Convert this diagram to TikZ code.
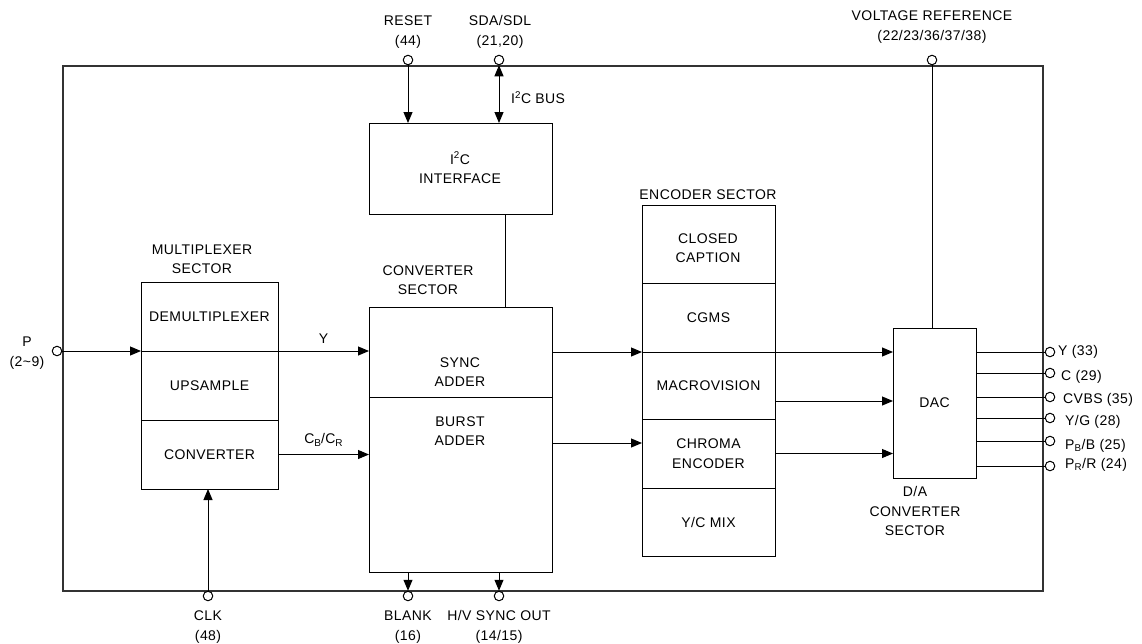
\documentclass[tikz,border=0pt]{standalone}
\usepackage{fontspec}
\setmainfont{Liberation Sans}[LetterSpace=3]
\usetikzlibrary{arrows.meta, positioning}

\begin{document}
\begin{tikzpicture}[
    x=1pt, y=-1pt,
    font=\fontsize{14}{19.5}\selectfont,
    box/.style={draw, line width=1pt, inner sep=0pt, outer sep=0pt, anchor=north west},
    txt/.style={align=center, inner sep=0pt},
    pin/.style={draw, circle, line width=1pt, fill=white, inner sep=0pt, minimum size=9.5pt},
    arr/.style={-{Triangle[length=11pt, width=9pt]}, line width=1pt},
    >={Triangle[length=11pt, width=9pt]}
]
\useasboundingbox (0,0) rectangle (1142,643);

% Chip outline
\node[box, draw=black!80, line width=1.2pt, minimum width=980pt, minimum height=525pt] (chip) at (63,66) {};
\draw[line width=2pt, black!80] (85,591) -- (98,591);

% Multiplexer sector
\node[box, minimum width=137pt, minimum height=69pt] (demux) at (141,282) {DEMULTIPLEXER};
\node[box, minimum width=137pt, minimum height=69pt] (ups) at (141,351) {UPSAMPLE};
\node[box, minimum width=137pt, minimum height=69pt] (mconv) at (141,420) {CONVERTER};
\node[txt] (muxLbl) at (202,259) {MULTIPLEXER\\SECTOR};

% I2C interface
\node[box, minimum width=183pt, minimum height=91pt] (i2c) at (369,123) {};
\node[txt] (i2cTxt) at (460,168) {I\textsuperscript{2}C\\INTERFACE};

% Converter sector
\node[box, minimum width=183pt, minimum height=90pt] (sync) at (369,307) {};
\node[box, minimum width=183pt, minimum height=175pt] (burst) at (369,397) {};
\node[txt] (syncTxt) at (460,372) {SYNC\\ADDER};
\node[txt] (burstTxt) at (460,431) {BURST\\ADDER};
\node[txt] (convLbl) at (428,280) {CONVERTER\\SECTOR};

% Encoder sector
\node[box, minimum width=133pt, minimum height=78pt] (cc) at (642,205) {};
\node[txt] (ccTxt) at (708,248) {CLOSED\\CAPTION};
\node[box, minimum width=133pt, minimum height=69pt] (cgms) at (642,283) {CGMS};
\node[box, minimum width=133pt, minimum height=67pt] (macro) at (642,352) {MACROVISION};
\node[box, minimum width=133pt, minimum height=69pt, align=center] (chroma) at (642,419) {CHROMA\\ENCODER};
\node[box, minimum width=133pt, minimum height=68pt] (ycmix) at (642,488) {Y/C MIX};
\node[txt] (encLbl) at (708,195) {ENCODER SECTOR};

% D/A converter
\node[box, minimum width=83pt, minimum height=150pt] (dac) at (893,328) {DAC};
\node[txt] (dacLbl) at (915,511) {D/A\\CONVERTER\\SECTOR};

% Pins
\node[pin] (pReset) at (408,60) {};
\node[pin] (pSda) at (499,60) {};
\node[pin] (pVref) at (932,60) {};
\node[pin] (pP) at (57,351) {};
\node[pin] (pClk) at (208,596) {};
\node[pin] (pBlank) at (408,596) {};
\node[pin] (pHv) at (499,596) {};
\node[pin] (oY) at (1050,352) {};
\node[pin] (oC) at (1050,373) {};
\node[pin] (oCvbs) at (1050,397) {};
\node[pin] (oYg) at (1050,418) {};
\node[pin] (oPb) at (1050,441) {};
\node[pin] (oPr) at (1050,466) {};

% Pin labels
\node[txt] (lReset) at (408,32) {RESET\\(44)};
\node[txt] (lSda) at (500,32) {SDA/SDL\\(21,20)};
\node[txt] (lVref) at (932,27) {VOLTAGE REFERENCE\\(22/23/36/37/38)};
\node[txt] (lP) at (27,353) {P\\(2\textasciitilde 9)};
\node[txt] (lClk) at (208,627) {CLK\\(48)};
\node[txt] (lBlank) at (408,627) {BLANK\\(16)};
\node[txt] (lHv) at (499,627) {H/V SYNC OUT\\(14/15)};
\node[txt, anchor=west] (lBus) at (511,98) {I\textsuperscript{2}C BUS};
\node[txt, anchor=west] (lY) at (1058,352) {Y (33)};
\node[txt, anchor=west] (lC) at (1061,377) {C (29)};
\node[txt, anchor=west] (lCvbs) at (1063,400) {CVBS (35)};
\node[txt, anchor=west] (lYg) at (1065,422) {Y/G (28)};
\node[txt, anchor=west] (lPb) at (1065,446) {P\textsubscript{B}/B (25)};
\node[txt, anchor=west] (lPr) at (1065,465) {P\textsubscript{R}/R (24)};

% Connections
\draw[arr] (pReset.south) -- (pReset |- i2c.north);
\draw[arr, <->] (pSda.south) -- (pSda |- i2c.north);
\draw[line width=1pt] ([xshift=45pt]i2c.south) -- ([xshift=45pt]sync.north);
\draw[arr] (pP.east) -- (pP -| demux.west);
\draw[arr] (demux.south east) -- (demux.south east -| sync.west) node[midway, above=4pt] (lYin) {Y};
\draw[arr] (mconv.east) -- (mconv.east -| burst.west) node[midway, above=4pt] (lCbcr) {C\raisebox{-0.45ex}{\fontsize{10}{10}\selectfont B}/C\raisebox{-0.45ex}{\fontsize{10}{10}\selectfont R}};
\draw[arr] (pClk.north) -- (pClk |- mconv.south);
\draw[arr] (pBlank |- burst.south) -- (pBlank.north);
\draw[arr] (pHv |- burst.south) -- (pHv.north);
\draw[arr] (sync.east) -- (sync.east -| cgms.west);
\draw[arr] ([yshift=41.5pt]burst.east) -- ([yshift=41.5pt]burst.east -| chroma.west);
\draw[arr] (cgms.south east) -- (cgms.south east -| dac.west);
\draw[arr] ([yshift=-15.5pt]macro.east) -- ([yshift=-15.5pt]macro.east -| dac.west);
\draw[arr] (chroma.east) -- (chroma.east -| dac.west);
\draw[line width=1pt] (pVref.south) -- (pVref |- dac.north);
\foreach \o in {oY, oC, oCvbs, oYg, oPb, oPr}
    \draw[line width=1pt] (\o.west -| dac.east) -- (\o.west);

\end{tikzpicture}
\end{document}
